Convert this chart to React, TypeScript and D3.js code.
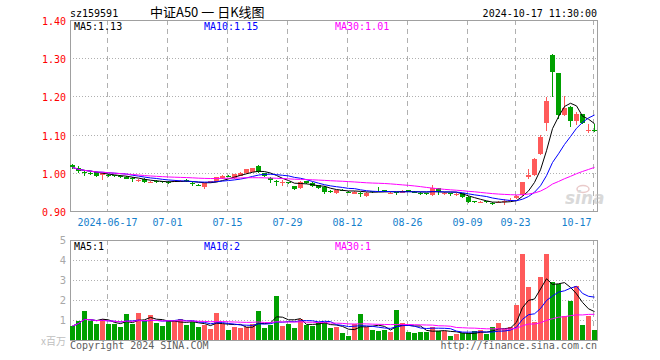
import React from "react";
import * as d3 from "d3";

// trading days 2024-06-06 .. 2024-10-17
const dates = [
  "06-06", "06-07", "06-11", "06-12", "06-13", "06-14", "06-17", "06-18", "06-19", "06-20", "06-21", "06-24", "06-25", "06-26", "06-27", "06-28",
  "07-01", "07-02", "07-03", "07-04", "07-05", "07-08", "07-09", "07-10", "07-11", "07-12", "07-15", "07-16", "07-17", "07-18", "07-19", "07-22", "07-23", "07-24", "07-25", "07-26", "07-29", "07-30", "07-31",
  "08-01", "08-02", "08-05", "08-06", "08-07", "08-08", "08-09", "08-12", "08-13", "08-14", "08-15", "08-16", "08-19", "08-20", "08-21", "08-22", "08-23", "08-26", "08-27", "08-28", "08-29", "08-30",
  "09-02", "09-03", "09-04", "09-05", "09-06", "09-09", "09-10", "09-11", "09-12", "09-13", "09-18", "09-19", "09-20", "09-23", "09-24", "09-25", "09-26", "09-27", "09-30",
  "10-08", "10-09", "10-10", "10-11", "10-14", "10-15", "10-16", "10-17",
];

const opens = [
  1.020, 1.012, 1.002, 1.000, 1.001, 0.995, 0.993, 0.993, 0.991, 0.990,
  0.986, 0.980, 0.984, 0.976, 0.978, 0.978, 0.977, 0.977, 0.977, 0.980,
  0.974, 0.969, 0.964, 0.974, 0.977, 0.986, 0.991, 0.986, 0.992, 0.999,
  1.003, 1.018, 0.999, 0.987, 0.978, 0.973, 0.975, 0.965, 0.959, 0.978,
  0.974, 0.968, 0.964, 0.952, 0.946, 0.956, 0.951, 0.945, 0.947, 0.938,
  0.952, 0.953, 0.954, 0.947, 0.949, 0.948, 0.954, 0.951, 0.947, 0.947,
  0.942, 0.959, 0.946, 0.947, 0.943, 0.946, 0.937, 0.925, 0.923, 0.925,
  0.921, 0.923, 0.923, 0.927, 0.935, 0.941, 0.988, 0.995, 1.048, 1.130,
  1.308, 1.261, 1.151, 1.173, 1.136, 1.154, 1.111, 1.113,
];

const closes = [
  1.014, 1.004, 1.001, 0.999, 0.992, 0.999, 0.992, 0.991, 0.989, 0.985,
  0.985, 0.981, 0.975, 0.977, 0.977, 0.977, 0.976, 0.979, 0.978, 0.979,
  0.973, 0.968, 0.972, 0.978, 0.988, 0.992, 0.990, 0.996, 1.000, 1.009,
  1.012, 1.003, 0.992, 0.981, 0.977, 0.975, 0.974, 0.957, 0.977, 0.972,
  0.965, 0.959, 0.951, 0.951, 0.955, 0.955, 0.950, 0.951, 0.946, 0.948,
  0.951, 0.952, 0.953, 0.948, 0.948, 0.953, 0.953, 0.950, 0.946, 0.946,
  0.959, 0.950, 0.947, 0.946, 0.944, 0.937, 0.924, 0.924, 0.924, 0.924,
  0.920, 0.924, 0.925, 0.929, 0.938, 0.976, 0.995, 1.036, 1.094, 1.188,
  1.265, 1.151, 1.170, 1.136, 1.154, 1.130, 1.112, 1.112,
];

const highs = [
  1.024, 1.018, 1.006, 1.003, 1.003, 1.000, 0.997, 0.995, 0.993, 0.992,
  0.988, 0.983, 0.986, 0.979, 0.980, 0.979, 0.979, 0.981, 0.980, 0.985,
  0.976, 0.971, 0.973, 0.979, 0.989, 0.994, 0.993, 0.997, 1.002, 1.010,
  1.013, 1.021, 1.000, 0.988, 0.980, 0.981, 0.977, 0.966, 0.979, 0.979,
  0.975, 0.969, 0.965, 0.954, 0.956, 0.958, 0.953, 0.952, 0.951, 0.950,
  0.953, 0.964, 0.955, 0.950, 0.950, 0.955, 0.956, 0.953, 0.949, 0.948,
  0.967, 0.960, 0.949, 0.948, 0.946, 0.947, 0.938, 0.927, 0.926, 0.927,
  0.923, 0.927, 0.931, 0.933, 0.942, 0.977, 1.009, 1.038, 1.100, 1.198,
  1.310, 1.262, 1.201, 1.175, 1.160, 1.155, 1.127, 1.128,
];

const lows = [
  1.010, 1.000, 0.992, 0.994, 0.990, 0.981, 0.989, 0.988, 0.986, 0.984,
  0.975, 0.975, 0.974, 0.973, 0.974, 0.974, 0.970, 0.975, 0.975, 0.976,
  0.966, 0.965, 0.957, 0.972, 0.976, 0.985, 0.988, 0.985, 0.991, 0.998,
  1.002, 1.000, 0.990, 0.972, 0.966, 0.966, 0.970, 0.955, 0.957, 0.970,
  0.963, 0.957, 0.945, 0.947, 0.945, 0.952, 0.947, 0.944, 0.937, 0.937,
  0.948, 0.950, 0.950, 0.944, 0.942, 0.947, 0.951, 0.947, 0.943, 0.943,
  0.939, 0.942, 0.943, 0.940, 0.940, 0.935, 0.922, 0.921, 0.920, 0.921,
  0.917, 0.920, 0.915, 0.925, 0.932, 0.940, 0.985, 0.992, 1.046, 1.110,
  1.199, 1.141, 1.150, 1.121, 1.125, 1.128, 1.105, 1.107,
];

// volume, millions
const volumes = [
  0.7, 0.95, 1.45, 0.95, 0.8, 1.05, 0.8, 0.8, 0.65, 1.3,
  0.8, 1.35, 0.95, 1.25, 0.85, 0.7, 0.95, 0.95, 1.05, 0.75,
  0.9, 0.65, 0.75, 0.55, 1.35, 0.8, 0.5, 0.65, 0.6, 0.65,
  0.8, 1.45, 0.6, 0.75, 2.2, 0.7, 0.8, 0.6, 1.05, 0.75,
  0.7, 0.9, 0.9, 0.6, 0.65, 0.35, 0.2, 0.8, 1.3, 0.65,
  0.5, 0.45, 0.5, 0.4, 1.5, 0.85, 0.4, 0.35, 0.4, 0.4,
  0.65, 0.45, 0.45, 0.2, 0.3, 0.35, 0.35, 0.45, 0.5, 0.3,
  0.65, 0.85, 0.55, 0.65, 1.75, 4.3, 2.65, 0.9, 3.15, 4.3,
  2.9, 2.8, 1.2, 1.95, 2.7, 0.75, 1.2, 0.5,
];

const tickDates = ["06-17", "07-01", "07-15", "07-29", "08-12", "08-26", "09-09", "09-23", "10-17"];
const tickLabels = ["2024-06-17", "07-01", "07-15", "07-29", "08-12", "08-26", "09-09", "09-23", "10-17"];
const priceTicks = [0.9, 1.0, 1.1, 1.2, 1.3, 1.4];
const priceGrid = [1.0, 1.1, 1.2, 1.3];
const volTicks = [1, 2, 3, 4, 5];
const maPeriods = [5, 10, 30];
const maPriceText = ["1.13", "1.15", "1.01"];
const maVolText = ["1", "2", "1"];

const UP = "#ff5a5a";
const DOWN = "#00a000";
const maColors = ["#000000", "#0000ff", "#ff00ff"];
const mono = "'DejaVu Sans Mono', monospace";

function movingAvg(vals: number[], n: number) {
  return vals.map((_, i) => d3.mean(vals.slice(Math.max(0, i - n + 1), i + 1)) as number);
}

export default function App() {
  const W = 660, H = 360;
  const left = 70, right = 597;
  const pTop = 20, pBot = 211, vTop = 240, vBot = 340;

  const x = d3.scaleBand<string>().domain(dates).range([left, right]).paddingInner(1 / 6).paddingOuter(0);
  const bw = x.bandwidth();
  const cx = (i: number) => (x(dates[i]) as number) + bw / 2;
  const y = d3.scaleLinear().domain([0.9, 1.4]).range([pBot, pTop]);
  const yv = d3.scaleLinear().domain([0, 5]).range([vBot, vTop]);

  const priceLine = d3.line<number>().x((_, i) => cx(i)).y((v) => y(v));
  const volLine = d3.line<number>().x((_, i) => cx(i)).y((v) => yv(v));

  const gridXs = tickDates.map((d) => cx(dates.indexOf(d)) - 1);

  return (
    <div style={{ position: "fixed", left: 0, top: 0 }}>
      <svg width={W} height={H} style={{ display: "block", background: "#fff" }}>
        {/* header */}
        <text x={70} y={17} fontFamily={mono} fontSize={10} fill="#000">sz159591</text>
        <text x={150} y={17} fontFamily="'Noto Sans CJK SC', sans-serif" fontSize={13} fill="#000">中证A50 一 日K线图</text>
        <text x={597} y={17} textAnchor="end" fontFamily={mono} fontSize={10} fill="#000">2024-10-17 11:30:00</text>

        {/* grids */}
        <g stroke="#b0b0b0" strokeWidth={1} shapeRendering="crispEdges">
          {gridXs.map((gx, k) => (
            <g key={k}>
              <line x1={gx} x2={gx} y1={pTop} y2={pBot} strokeDasharray="5,4" />
              <line x1={gx} x2={gx} y1={vTop} y2={vBot} strokeDasharray="5,4" />
            </g>
          ))}
          {priceGrid.map((v) => (
            <line key={v} x1={left} x2={right} y1={Math.round(y(v)) + 0.5} y2={Math.round(y(v)) + 0.5} strokeDasharray="1,2" />
          ))}
          {volTicks.slice(0, 4).map((v) => (
            <line key={v} x1={left} x2={right} y1={Math.round(yv(v)) + 0.5} y2={Math.round(yv(v)) + 0.5} strokeDasharray="1,2" />
          ))}
        </g>

        {/* frames */}
        <g fill="none" stroke="#a0a0a0" shapeRendering="crispEdges">
          <rect x={left + 0.5} y={pTop + 0.5} width={right - left} height={pBot - pTop} />
          <rect x={left + 0.5} y={vTop + 0.5} width={right - left} height={vBot - vTop} />
        </g>

        {/* price axis */}
        {priceTicks.map((v) => (
          <text key={v} x={66} y={Math.round(y(v)) + 4.5} textAnchor="end" fontFamily={mono} fontSize={10} fill="#ff0000">
            {v.toFixed(2)}
          </text>
        ))}

        {/* date axis */}
        {tickLabels.map((t, k) => (
          <text
            key={t}
            x={k === tickLabels.length - 1 ? gridXs[k] - 2 : gridXs[k]}
            y={225.5}
            textAnchor={k === tickLabels.length - 1 ? "end" : "middle"}
            fontFamily={mono}
            fontSize={10}
            fill="#1580cc"
          >
            {t}
          </text>
        ))}

        {/* watermark */}
        <g opacity={0.55}>
          <ellipse cx={583} cy={189} rx={6} ry={3.5} fill="none" stroke="#d9a0a0" strokeWidth={1.5} />
          <text x={565} y={204} fontFamily="'DejaVu Sans', sans-serif" fontStyle="italic" fontWeight="bold" fontSize={17} fill="#bbbbbb">sina</text>
        </g>

        {/* candles */}
        <g shapeRendering="crispEdges">
          {dates.map((d, i) => {
            const up = closes[i] >= opens[i];
            const col = up ? UP : DOWN;
            const yo = y(opens[i]);
            const yc = y(closes[i]);
            const top = Math.min(yo, yc);
            const h = Math.max(1, Math.abs(yo - yc));
            const xc = Math.floor(cx(i)) + 0.5;
            return (
              <g key={d}>
                <line x1={xc} x2={xc} y1={y(highs[i])} y2={y(lows[i])} stroke={col} />
                <rect x={x(d)} y={top} width={bw} height={h} fill={col} />
              </g>
            );
          })}
        </g>

        {/* price MAs */}
        {maPeriods.map((n, k) => (
          <path key={n} d={priceLine(movingAvg(closes, n)) ?? ""} fill="none" stroke={maColors[k]} strokeWidth={1} />
        ))}

        {/* volume bars */}
        <g shapeRendering="crispEdges">
          {dates.map((d, i) => (
            <rect
              key={d}
              x={x(d)}
              y={yv(volumes[i])}
              width={bw}
              height={vBot - yv(volumes[i])}
              fill={closes[i] >= opens[i] ? UP : DOWN}
            />
          ))}
        </g>

        {/* volume MAs */}
        {maPeriods.map((n, k) => (
          <path key={n} d={volLine(movingAvg(volumes, n)) ?? ""} fill="none" stroke={maColors[k]} strokeWidth={1} />
        ))}

        {/* legends */}
        {maPeriods.map((n, k) => (
          <g key={n} fontFamily={mono} fontSize={10} fill={maColors[k]}>
            <text x={[74, 204, 335][k]} y={30}>{`MA${n}:${maPriceText[k]}`}</text>
            <text x={[74, 204, 335][k]} y={250}>{`MA${n}:${maVolText[k]}`}</text>
          </g>
        ))}

        {/* volume axis */}
        {[0, ...volTicks].filter((v) => v > 0).map((v) => (
          <text key={v} x={66} y={yv(v) + 3.5} textAnchor="end" fontFamily="'DejaVu Sans', sans-serif" fontSize={10} fill="#a8a8a8">
            {v}
          </text>
        ))}
        <text x={66} y={345} textAnchor="end" fontFamily="'Noto Sans CJK SC', sans-serif" fontSize={10} fill="#c0c0c0">x百万</text>

        {/* footer */}
        <text x={70} y={349} fontFamily={mono} fontSize={10} fill="#606060">Copyright 2024 SINA.COM</text>
        <text x={597} y={349} textAnchor="end" fontFamily={mono} fontSize={10} fill="#606060">http://finance.sina.com.cn</text>
      </svg>
    </div>
  );
}
